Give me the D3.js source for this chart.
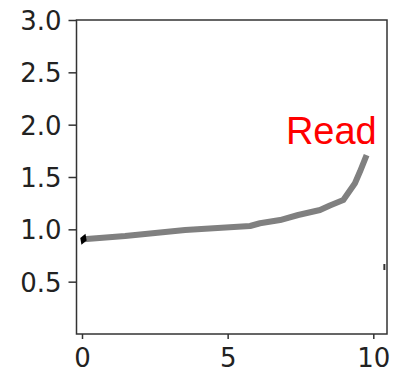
<!DOCTYPE html>
<html>
<head>
<meta charset="utf-8">
<script src="https://cdn.jsdelivr.net/npm/d3@7"></script>
<style>
  html, body { margin: 0; padding: 0; background: #fff; }
  svg { display: block; }
</style>
</head>
<body>
<svg id="chart" width="393" height="372"></svg>
<script>
// Sorted read values along the rank axis
const rankX = [0.05, 1.48, 3.54, 5.77, 6.11, 6.80, 7.42, 8.17, 8.51, 8.97, 9.37, 9.54, 9.77];
const readY = [0.905, 0.936, 0.994, 1.032, 1.058, 1.089, 1.137, 1.185, 1.228, 1.28, 1.44, 1.55, 1.71];

// Start marker and a stray point near the right edge
const startMarker = [{ x: 0.05, y: 0.905 }];
const edgeMarker = [{ x: 10.38, y: 0.64 }];

// Axis ticks
const xTicks = [0, 5, 10];
const yTicks = [0.5, 1.0, 1.5, 2.0, 2.5, 3.0];

// Series label
const labelText = "Read";
const labelPos = { x: 7.0, y: 1.82 };

const svg = d3.select("#chart");
const frame = { left: 76.5, right: 387, top: 20, bottom: 334 };

const x = d3.scaleLinear().domain([0, 10]).range([82, 373.3]);
const y = d3.scaleLinear().domain([0, 3]).range([334, 20]);

// Axes
const tickFont = "'DejaVu Sans', sans-serif";
const xAxis = svg.append("g")
  .attr("transform", `translate(0,${frame.bottom})`)
  .call(d3.axisBottom(x).tickValues(xTicks).tickFormat(d3.format("d")).tickSize(5).tickPadding(8));
const yAxis = svg.append("g")
  .attr("transform", `translate(${frame.left},0)`)
  .call(d3.axisLeft(y).tickValues(yTicks).tickFormat(d3.format(".1f")).tickSize(8).tickPadding(7));

[xAxis, yAxis].forEach(g => {
  g.select(".domain").remove();
  g.selectAll(".tick line").attr("stroke", "#333").attr("stroke-width", 1.5);
  g.selectAll(".tick text")
    .attr("fill", "#222")
    .style("font-family", tickFont)
    .style("font-size", "26px");
});
yAxis.selectAll(".tick text").attr("dy", "0.36em");
xAxis.selectAll(".tick text").attr("dy", "0.78em");

// Frame
svg.append("rect")
  .attr("x", frame.left)
  .attr("y", frame.top)
  .attr("width", frame.right - frame.left)
  .attr("height", frame.bottom - frame.top)
  .attr("fill", "none")
  .attr("stroke", "#333")
  .attr("stroke-width", 1.5);

// Line
const pts = rankX.map((d, i) => [d, readY[i]]);
const line = d3.line().x(d => x(d[0])).y(d => y(d[1]));
svg.append("path")
  .datum(pts)
  .attr("d", line)
  .attr("fill", "none")
  .attr("stroke", "#808080")
  .attr("stroke-width", 6)
  .attr("stroke-linejoin", "round")
  .attr("stroke-linecap", "butt");

// Markers
svg.selectAll(".start")
  .data(startMarker)
  .join("path")
  .attr("class", "start")
  .attr("transform", d => `translate(${x(d.x)},${y(d.y)}) rotate(20)`)
  .attr("d", d3.symbol(d3.symbolDiamond, 40))
  .attr("fill", "#000");

svg.selectAll(".edge")
  .data(edgeMarker)
  .join("rect")
  .attr("class", "edge")
  .attr("x", d => x(d.x) - 1)
  .attr("y", d => y(d.y) - 3)
  .attr("width", 2)
  .attr("height", 6)
  .attr("fill", "#333");

// Label
svg.append("text")
  .attr("x", x(labelPos.x))
  .attr("y", y(labelPos.y))
  .attr("fill", "#ff0000")
  .style("font-family", "'Liberation Sans', Arial, sans-serif")
  .style("font-size", "38px")
  .text(labelText);
</script>
</body>
</html>
